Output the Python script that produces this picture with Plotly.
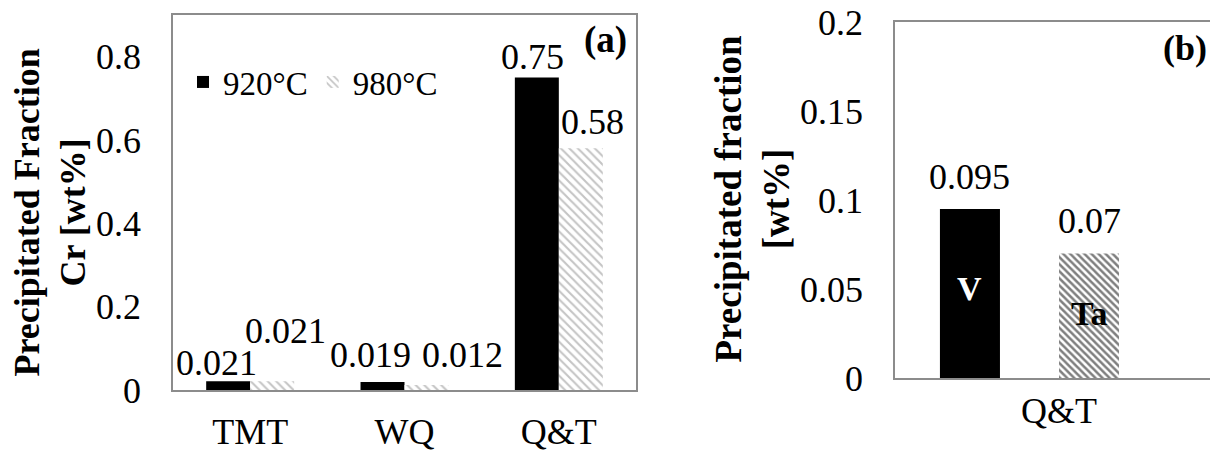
import plotly.graph_objects as go

# ---------------- data ----------------
categories_a = ["TMT", "WQ", "Q&T"]
series_names_a = ["920°C", "980°C"]
values_920 = [0.021, 0.019, 0.75]
values_980 = [0.021, 0.012, 0.58]
labels_920 = ["0.021", "0.019", "0.75"]
labels_980 = ["0.021", "0.012", "0.58"]

categories_b = ["Q&T"]
elements_b = ["V", "Ta"]
values_b = [0.095, 0.07]
labels_b = ["0.095", "0.07"]

yticks_a = [0, 0.2, 0.4, 0.6, 0.8]
yticklabels_a = ["0", "0.2", "0.4", "0.6", "0.8"]
yticks_b = [0, 0.05, 0.1, 0.15, 0.2]
yticklabels_b = ["0", "0.05", "0.1", "0.15", "0.2"]

# ---------------- layout geometry (screen px of the 1218x454 view) ----------------
PAGE_OFF = 8                      # default body margin of the written html page
WF, HF = 1218 - PAGE_OFF, 454 - PAGE_OFF


def xp(x):
    return (x - PAGE_OFF) / WF


def yp(y):
    return 1 - (y - PAGE_OFF) / HF


A_L, A_R, A_T, A_B = 173, 636, 15, 390
B_L, B_R, B_T, B_B = 895, 1218, 22, 378
B_CAT_RIGHT = 1223          # panel (b) box continues slightly past the view edge
FONT = "Liberation Serif, Times New Roman, serif"
AXIS_COLOR = "#8c8c8c"

# label placement offsets (px) for panel (a) data labels
dx_920, dy_920 = [-12, -12, -4], [18, 27, 21]
dx_980, dy_980 = [13, 36, 12], [50, 30, 26]

b_width = 0.183
b_offsets = [-0.363, 0.0]
b_px_per_unit = float(B_CAT_RIGHT - B_L)
b_range_right = 0.5 - (B_CAT_RIGHT - B_R) / b_px_per_unit

hatch_a = dict(shape="\\", fgcolor="#8a8a8a", bgcolor="white", size=6, solidity=0.35)
hatch_b = dict(shape="\\", fgcolor="#000000", bgcolor="white", size=5, solidity=0.5)

fig = go.Figure()
fig.add_trace(go.Bar(x=categories_a, y=values_920, name=series_names_a[0],
                     marker=dict(color="black", line=dict(width=0)),
                     xaxis="x", yaxis="y"))
fig.add_trace(go.Bar(x=categories_a, y=values_980, name=series_names_a[1],
                     marker=dict(color="white", pattern=hatch_a, line=dict(width=0)),
                     xaxis="x", yaxis="y"))

fig.add_trace(go.Bar(x=categories_b, y=[values_b[0]], name=elements_b[0],
                     width=b_width, offset=b_offsets[0],
                     marker=dict(color="black", line=dict(width=0)),
                     showlegend=False, xaxis="x2", yaxis="y2"))
fig.add_trace(go.Bar(x=categories_b, y=[values_b[1]], name=elements_b[1],
                     width=b_width, offset=b_offsets[1],
                     marker=dict(color="white", pattern=hatch_b, line=dict(width=0)),
                     showlegend=False, xaxis="x2", yaxis="y2"))

annotations = []
for j, c in enumerate(categories_a):
    annotations.append(dict(x=c, y=values_920[j], xref="x", yref="y", text=labels_920[j],
                            showarrow=False, xshift=-22 + dx_920[j], yshift=dy_920[j],
                            xanchor="center", yanchor="middle",
                            font=dict(family=FONT, size=36, color="black")))
    annotations.append(dict(x=c, y=values_980[j], xref="x", yref="y", text=labels_980[j],
                            showarrow=False, xshift=22 + dx_980[j], yshift=dy_980[j],
                            xanchor="center", yanchor="middle",
                            font=dict(family=FONT, size=36, color="black")))

inside_colors = ["white", "black"]
inside_frac = [0.53, 0.52]
for i in range(2):
    centre_px = (b_offsets[i] + b_width / 2) * b_px_per_unit
    annotations.append(dict(x=categories_b[0], y=values_b[i], xref="x2", yref="y2",
                            text=labels_b[i], showarrow=False, xshift=centre_px, yshift=32,
                            xanchor="center", yanchor="middle",
                            font=dict(family=FONT, size=36, color="black")))
    annotations.append(dict(x=categories_b[0], y=values_b[i] * inside_frac[i], xref="x2", yref="y2",
                            text="<b>%s</b>" % elements_b[i], showarrow=False, xshift=centre_px,
                            xanchor="center", yanchor="middle",
                            font=dict(family=FONT, size=34, color=inside_colors[i])))

annotations += [
    dict(x=xp(605), y=yp(40), xref="paper", yref="paper", text="<b>(a)</b>", showarrow=False,
         xanchor="center", yanchor="middle", font=dict(family=FONT, size=37, color="black")),
    dict(x=xp(1185), y=yp(48), xref="paper", yref="paper", text="<b>(b)</b>", showarrow=False,
         xanchor="center", yanchor="middle", font=dict(family=FONT, size=36, color="black")),
    dict(x=xp(49.5), y=yp(213), xref="paper", yref="paper", textangle=-90,
         text="<b>Precipitated Fraction<br>Cr [wt%]</b>", showarrow=False,
         xanchor="center", yanchor="middle", font=dict(family=FONT, size=36, color="black")),
    dict(x=xp(751.5), y=yp(199), xref="paper", yref="paper", textangle=-90,
         text="<b>Precipitated fraction<br>[wt%]</b>", showarrow=False,
         xanchor="center", yanchor="middle", font=dict(family=FONT, size=37, color="black")),
]

axis_common = dict(showgrid=False, zeroline=False, ticks="", showline=True, automargin=False,
                   linecolor=AXIS_COLOR, linewidth=1.5, ticklabeloverflow="allow",
                   tickfont=dict(family=FONT, size=36, color="black"))

fig.update_layout(
    width=WF, height=HF, margin=dict(l=0, r=0, t=0, b=0, pad=0, autoexpand=False),
    paper_bgcolor="white", plot_bgcolor="white",
    barmode="group", bargap=0.43, bargroupgap=0,
    font=dict(family=FONT, color="black"),
    xaxis=dict(domain=[xp(A_L), xp(A_R)], anchor="y", mirror=True,
               ticklabelstandoff=9, **axis_common),
    yaxis=dict(domain=[yp(A_B), yp(A_T)], anchor="x", range=[0, 0.9], mirror=True,
               tickvals=yticks_a, ticktext=yticklabels_a, ticklabelstandoff=23, **axis_common),
    xaxis2=dict(domain=[xp(B_L), 1.0], anchor="y2", mirror=True,
                range=[-0.5, b_range_right], ticklabelstandoff=0, **axis_common),
    yaxis2=dict(domain=[yp(B_B), yp(B_T)], anchor="x2", range=[0, 0.20001], mirror=False,
                tickvals=yticks_b, ticktext=yticklabels_b, ticklabelstandoff=23, **axis_common),
    legend=dict(orientation="h", x=xp(183), y=yp(82), xanchor="left", yanchor="middle",
                font=dict(family=FONT, size=33, color="black"), bgcolor="rgba(0,0,0,0)",
                traceorder="normal"),
    annotations=annotations,
)

fig.write_html("out.html")
